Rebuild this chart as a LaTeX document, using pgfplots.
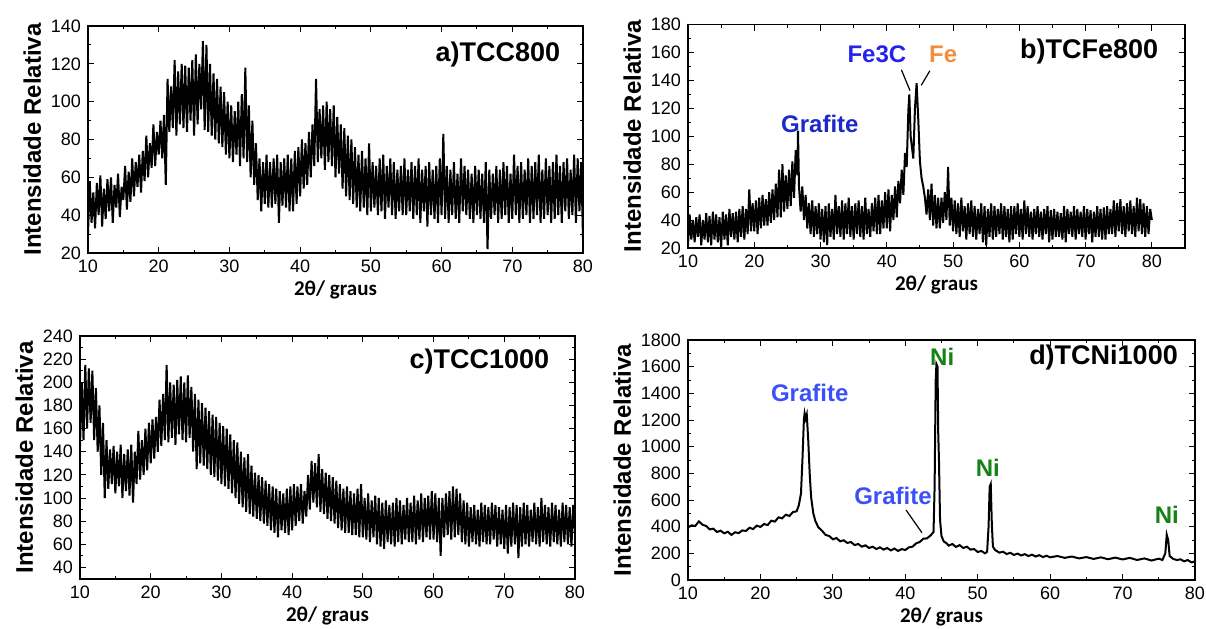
\documentclass[border=0pt]{standalone}
\usepackage{fontspec}
\setmainfont{Liberation Sans}
\newfontfamily\calibri{Carlito}
\usepackage{pgfplots}
\pgfplotsset{compat=1.18}

\definecolor{grafb}{RGB}{30,40,200}
\definecolor{fecblue}{RGB}{35,35,235}
\definecolor{feorange}{RGB}{245,140,60}
\definecolor{nigreen}{RGB}{20,130,20}
\definecolor{grafd}{RGB}{60,80,250}

\pgfplotsset{
  xrd/.style={
    scale only axis,
    xmin=10, xmax=80,
    xtick={10,20,...,80},
    minor x tick num=1, minor y tick num=1,
    tick align=inside,
    major tick length=3pt, minor tick length=1.7pt,
    every tick/.style={black, line width=0.5pt},
    axis line style={line width=0.6pt},
    ticklabel style={font=\fontsize{9}{9}\selectfont},
    /pgf/number format/assume math mode=true,
    /pgf/number format/1000 sep={},
    scaled y ticks=false,
    xlabel={\calibri\bfseries\fontsize{10.5}{10.5}\selectfont 2θ/ graus},
    ylabel={\bfseries\fontsize{12}{12}\selectfont Intensidade Relativa},
    xlabel style={yshift=3pt},
    ylabel style={yshift=-2pt},
  },
  noisy/.style={black, line width=1pt, line join=miter, miter limit=2},
}
\tikzset{
  ttl/.style={anchor=east, font=\bfseries\fontsize{13.5}{13.5}\selectfont},
  lab/.style={font=\bfseries\fontsize{12}{12}\selectfont},
}

\begin{document}
\begin{tikzpicture}[x=1pt,y=1pt]
\path[use as bounding box] (0,0) rectangle (603,314);

% a) TCC800
\begin{axis}[xrd, at={(44pt,187.5pt)}, anchor=south west, width=247.5pt, height=113.5pt,
  ymin=20, ymax=140, ytick={20,40,...,140}]
\addplot[noisy] coordinates {
(10,30)(10.25,58)(10.5,36)(10.75,52)(11,33)(11.25,57)(11.5,40)(11.75,61)
(12,34)(12.25,54)(12.5,38)(12.75,59)(13,42)(13.25,60)(13.5,36)(13.75,56)
(14,44)(14.25,62)(14.5,39)(14.75,55)(15,48)(15.25,66)(15.5,43)(15.75,63)
(16,47)(16.25,70)(16.5,50)(16.75,68)(17,55)(17.25,72)(17.5,52)(17.75,74)
(18,58)(18.25,82)(18.5,60)(18.75,78)(19,65)(19.25,88)(19.5,66)(19.75,84)
(20,72)(20.25,90)(20.5,70)(20.75,93)(21,56)(21.25,112)(21.5,84)(21.75,108)
(22,86)(22.25,122)(22.5,82)(22.75,116)(23,88)(23.25,120)(23.5,86)(23.75,119)
(24,84)(24.25,118)(24.5,90)(24.75,122)(25,82)(25.25,125)(25.5,88)(25.75,120)
(26,96)(26.25,132)(26.5,85)(26.75,130)(27,84)(27.25,120)(27.5,82)(27.75,115)
(28,80)(28.25,112)(28.5,78)(28.75,108)(29,76)(29.25,105)(29.5,72)(29.75,100)
(30,70)(30.25,98)(30.5,68)(30.75,95)(31,72)(31.25,100)(31.5,66)(31.75,104)
(32,70)(32.25,118)(32.5,68)(32.75,98)(33,60)(33.25,90)(33.5,56)(33.75,78)
(34,48)(34.25,70)(34.5,42)(34.75,68)(35,46)(35.25,72)(35.5,44)(35.75,68)
(36,44)(36.25,70)(36.5,46)(36.75,72)(37,36)(37.25,68)(37.5,45)(37.75,70)
(38,44)(38.25,72)(38.5,42)(38.75,70)(39,42)(39.25,74)(39.5,46)(39.75,76)
(40,50)(40.25,80)(40.5,54)(40.75,78)(41,56)(41.25,84)(41.5,60)(41.75,88)
(42,66)(42.25,112)(42.5,68)(42.75,96)(43,70)(43.25,98)(43.5,64)(43.75,100)
(44,68)(44.25,96)(44.5,66)(44.75,98)(45,60)(45.25,92)(45.5,62)(45.75,88)
(46,54)(46.25,86)(46.5,50)(46.75,82)(47,48)(47.25,80)(47.5,46)(47.75,76)
(48,44)(48.25,72)(48.5,42)(48.75,74)(49,44)(49.25,70)(49.5,40)(49.75,78)
(50,42)(50.25,68)(50.5,44)(50.75,66)(51,40)(51.25,70)(51.5,42)(51.75,72)
(52,38)(52.25,66)(52.5,44)(52.75,70)(53,40)(53.25,68)(53.5,38)(53.75,64)
(54,42)(54.25,66)(54.5,40)(54.75,70)(55,40)(55.25,64)(55.5,42)(55.75,68)
(56,38)(56.25,66)(56.5,40)(56.75,70)(57,36)(57.25,64)(57.5,42)(57.75,66)
(58,34)(58.25,68)(58.5,40)(58.75,64)(59,38)(59.25,66)(59.5,36)(59.75,70)
(60,40)(60.25,83)(60.5,38)(60.75,66)(61,36)(61.25,64)(61.5,40)(61.75,68)
(62,38)(62.25,62)(62.5,36)(62.75,70)(63,42)(63.25,66)(63.5,40)(63.75,64)
(64,38)(64.25,62)(64.5,36)(64.75,66)(65,40)(65.25,64)(65.5,38)(65.75,62)
(66,36)(66.25,68)(66.5,22)(66.75,64)(67,38)(67.25,62)(67.5,40)(67.75,66)
(68,36)(68.25,64)(68.5,38)(68.75,68)(69,40)(69.25,66)(69.5,36)(69.75,62)
(70,38)(70.25,72)(70.5,40)(70.75,66)(71,36)(71.25,68)(71.5,38)(71.75,64)
(72,40)(72.25,70)(72.5,36)(72.75,66)(73,38)(73.25,68)(73.5,40)(73.75,72)
(74,36)(74.25,64)(74.5,38)(74.75,70)(75,40)(75.25,66)(75.5,36)(75.75,68)
(76,38)(76.25,72)(76.5,40)(76.75,66)(77,36)(77.25,68)(77.5,42)(77.75,70)
(78,38)(78.25,64)(78.5,40)(78.75,72)(79,36)(79.25,70)(79.5,42)(79.75,68)
(80,28)};
\node[ttl] at (rel axis cs:0.968,0.876) {a)TCC800};
\end{axis}

% b) TCFe800
\begin{axis}[xrd, at={(344pt,190pt)}, anchor=south west, width=248.5pt, height=111.75pt,
  xmax=85, ymin=20, ymax=180, ytick={20,40,...,180}]
\addplot[noisy] coordinates {
(10,22)(10.25,44)(10.5,26)(10.75,40)(11,24)(11.25,42)(11.5,28)(11.75,44)
(12,22)(12.25,40)(12.5,26)(12.75,45)(13,24)(13.25,43)(13.5,22)(13.75,46)
(14,26)(14.25,44)(14.5,24)(14.75,42)(15,20)(15.25,46)(15.5,26)(15.75,44)
(16,22)(16.25,48)(16.5,28)(16.75,45)(17,26)(17.25,46)(17.5,24)(17.75,48)
(18,28)(18.25,50)(18.5,26)(18.75,48)(19,30)(19.25,62)(19.5,32)(19.75,52)
(20,32)(20.25,54)(20.5,30)(20.75,56)(21,34)(21.25,58)(21.5,36)(21.75,55)
(22,36)(22.25,60)(22.5,38)(22.75,62)(23,40)(23.25,66)(23.5,42)(23.75,76)
(24,42)(24.25,80)(24.5,46)(24.75,72)(25,48)(25.25,76)(25.5,50)(25.75,82)
(26,56)(26.25,90)(26.5,72)(26.6,104)(26.75,64)(27,46)(27.25,64)(27.5,40)(27.75,58)
(28,34)(28.25,52)(28.5,30)(28.75,54)(29,28)(29.25,50)(29.5,30)(29.75,52)
(30,26)(30.25,48)(30.5,24)(30.75,50)(31,22)(31.25,52)(31.5,28)(31.75,48)
(32,26)(32.25,58)(32.5,30)(32.75,50)(33,28)(33.25,54)(33.5,26)(33.75,52)
(34,30)(34.25,56)(34.5,28)(34.75,50)(35,26)(35.25,52)(35.5,30)(35.75,54)
(36,28)(36.25,50)(36.5,26)(36.75,56)(37,30)(37.25,48)(37.5,28)(37.75,52)
(38,32)(38.25,56)(38.5,30)(38.75,58)(39,30)(39.25,54)(39.5,34)(39.75,60)
(40,34)(40.25,62)(40.5,32)(40.75,58)(41,40)(41.25,64)(41.5,42)(41.75,68)
(42,52)(42.25,76)(42.5,58)(42.75,88)(43,78)(43.25,118)(43.4,130)(43.6,100)
(43.8,92)(44,84)(44.25,120)(44.5,138)(44.75,112)(45,82)(45.25,70)(45.5,64)
(45.75,56)(46,44)(46.25,62)(46.5,40)(46.75,66)(47,36)(47.25,58)(47.5,34)(47.75,56)
(48,34)(48.25,56)(48.5,38)(48.75,60)(49,40)(49.25,78)(49.5,36)(49.75,56)
(50,32)(50.25,54)(50.5,30)(50.75,52)(51,28)(51.25,56)(51.5,32)(51.75,50)
(52,26)(52.25,52)(52.5,30)(52.75,54)(53,28)(53.25,50)(53.5,26)(53.75,48)
(54,30)(54.25,52)(54.5,24)(54.75,50)(55,22)(55.25,48)(55.5,28)(55.75,52)
(56,26)(56.25,50)(56.5,28)(56.75,48)(57,30)(57.25,52)(57.5,26)(57.75,50)
(58,28)(58.25,48)(58.5,24)(58.75,50)(59,26)(59.25,50)(59.5,30)(59.75,52)
(60,28)(60.25,48)(60.5,26)(60.75,54)(61,30)(61.25,50)(61.5,28)(61.75,46)
(62,26)(62.25,48)(62.5,30)(62.75,50)(63,28)(63.25,46)(63.5,26)(63.75,48)
(64,30)(64.25,50)(64.5,24)(64.75,47)(65,26)(65.25,48)(65.5,28)(65.75,46)
(66,28)(66.25,45)(66.5,26)(66.75,50)(67,24)(67.25,48)(67.5,30)(67.75,46)
(68,28)(68.25,50)(68.5,26)(68.75,48)(69,30)(69.25,46)(69.5,28)(69.75,50)
(70,26)(70.25,48)(70.5,30)(70.75,47)(71,24)(71.25,46)(71.5,28)(71.75,50)
(72,28)(72.25,48)(72.5,26)(72.75,49)(73,26)(73.25,50)(73.5,30)(73.75,48)
(74,30)(74.25,54)(74.5,28)(74.75,52)(75,32)(75.25,55)(75.5,30)(75.75,50)
(76,28)(76.25,52)(76.5,32)(76.75,54)(77,30)(77.25,50)(77.5,28)(77.75,56)
(78,32)(78.25,55)(78.5,30)(78.75,52)(79,28)(79.25,50)(79.5,30)(79.75,48)
(80,40)};
\node[ttl] at (rel axis cs:0.96,0.877) {b)TCFe800};
\node[lab, text=grafb] at (axis cs:29.9,109) {Grafite};
\node[lab, text=fecblue] at (axis cs:38.5,158.8) {Fe3C};
\node[lab, text=feorange] at (axis cs:48.5,158.8) {Fe};
\draw[line width=0.6pt] (axis cs:42.2,147.6) -- (axis cs:43.5,132.7);
\draw[line width=0.6pt] (axis cs:46.5,146.9) -- (axis cs:45.2,136.5);
\end{axis}

% c) TCC1000
\begin{axis}[xrd, at={(40pt,24.5pt)}, anchor=south west, width=247.5pt, height=121.5pt,
  ymin=30, ymax=240, ytick={40,60,...,240}]
\addplot[noisy] coordinates {
(10,145)(10.25,200)(10.5,150)(10.75,215)(11,160)(11.25,212)(11.5,165)(11.75,210)
(12,150)(12.25,195)(12.5,140)(12.75,180)(13,120)(13.25,165)(13.5,100)(13.75,150)
(14,108)(14.25,142)(14.5,112)(14.75,145)(15,104)(15.25,140)(15.5,110)(15.75,146)
(16,100)(16.25,138)(16.5,106)(16.75,142)(17,102)(17.25,146)(17.5,96)(17.75,140)
(18,112)(18.25,158)(18.5,116)(18.75,150)(19,120)(19.25,160)(19.5,124)(19.75,165)
(20,130)(20.25,168)(20.5,134)(20.75,170)(21,140)(21.25,185)(21.5,145)(21.75,190)
(22,150)(22.25,215)(22.5,148)(22.75,200)(23,152)(23.25,198)(23.5,146)(23.75,202)
(24,155)(24.25,205)(24.5,150)(24.75,200)(25,148)(25.25,206)(25.5,152)(25.75,196)
(26,140)(26.25,190)(26.5,125)(26.75,185)(27,130)(27.25,182)(27.5,128)(27.75,178)
(28,125)(28.25,175)(28.5,120)(28.75,172)(29,118)(29.25,170)(29.5,115)(29.75,165)
(30,112)(30.25,162)(30.5,110)(30.75,160)(31,108)(31.25,155)(31.5,104)(31.75,150)
(32,100)(32.25,148)(32.5,95)(32.75,140)(33,92)(33.25,135)(33.5,88)(33.75,138)
(34,86)(34.25,128)(34.5,84)(34.75,122)(35,82)(35.25,120)(35.5,80)(35.75,118)
(36,78)(36.25,115)(36.5,76)(36.75,112)(37,72)(37.25,110)(37.5,70)(37.75,108)
(38,66)(38.25,106)(38.5,72)(38.75,104)(39,70)(39.25,108)(39.5,68)(39.75,110)
(40,72)(40.25,112)(40.5,76)(40.75,110)(41,80)(41.25,112)(41.5,78)(41.75,106)
(42,84)(42.25,120)(42.5,90)(42.75,132)(43,96)(43.25,130)(43.5,92)(43.75,138)
(44,88)(44.25,125)(44.5,86)(44.75,122)(45,82)(45.25,120)(45.5,80)(45.75,118)
(46,78)(46.25,115)(46.5,74)(46.75,112)(47,72)(47.25,108)(47.5,70)(47.75,110)
(48,70)(48.25,106)(48.5,68)(48.75,104)(49,68)(49.25,108)(49.5,66)(49.75,112)
(50,66)(50.25,100)(50.5,64)(50.75,104)(51,62)(51.25,98)(51.5,66)(51.75,102)
(52,60)(52.25,100)(52.5,58)(52.75,96)(53,56)(53.25,98)(53.5,62)(53.75,94)
(54,60)(54.25,96)(54.5,58)(54.75,100)(55,62)(55.25,98)(55.5,60)(55.75,94)
(56,64)(56.25,100)(56.5,62)(56.75,96)(57,62)(57.25,102)(57.5,60)(57.75,98)
(58,64)(58.25,104)(58.5,62)(58.75,100)(59,66)(59.25,102)(59.5,64)(59.75,106)
(60,64)(60.25,104)(60.5,62)(60.75,100)(61,50)(61.25,100)(61.5,66)(61.75,104)
(62,68)(62.25,106)(62.5,64)(62.75,110)(63,66)(63.25,108)(63.5,68)(63.75,104)
(64,62)(64.25,98)(64.5,60)(64.75,96)(65,58)(65.25,92)(65.5,62)(65.75,94)
(66,60)(66.25,90)(66.5,58)(66.75,96)(67,62)(67.25,94)(67.5,60)(67.75,92)
(68,60)(68.25,96)(68.5,64)(68.75,94)(69,58)(69.25,92)(69.5,60)(69.75,90)
(70,56)(70.25,94)(70.5,52)(70.75,92)(71,58)(71.25,96)(71.5,60)(71.75,94)
(72,48)(72.25,92)(72.5,58)(72.75,96)(73,60)(73.25,94)(73.5,58)(73.75,90)
(74,62)(74.25,96)(74.5,60)(74.75,92)(75,58)(75.25,100)(75.5,62)(75.75,94)
(76,60)(76.25,92)(76.5,58)(76.75,96)(77,62)(77.25,94)(77.5,60)(77.75,90)
(78,58)(78.25,96)(78.5,62)(78.75,94)(79,60)(79.25,92)(79.5,58)(79.75,94)
(80,70)};
\node[ttl] at (rel axis cs:0.962,0.893) {c)TCC1000};
\end{axis}

% d) TCNi1000
\begin{axis}[xrd, at={(344pt,24pt)}, anchor=south west, width=253.5pt, height=120pt,
  ymin=0, ymax=1800, ytick={0,200,...,1800}]
\addplot[black, line width=1pt] coordinates {
(10,395)(10.5,410)(11,405)(11.5,440)(12,415)(12.5,405)(13,380)(13.5,385)
(14,360)(14.5,370)(15,350)(15.5,362)(16,338)(16.5,358)(17,352)(17.5,372)
(18,368)(18.5,392)(19,382)(19.5,408)(20,398)(20.5,420)(21,412)(21.5,445)
(22,438)(22.5,470)(23,462)(23.5,490)(24,480)(24.5,510)(25,515)(25.3,560)
(25.6,650)(25.8,900)(26,1200)(26.1,1250)(26.25,1210)(26.4,1240)(26.6,1050)
(26.8,800)(27,620)(27.3,500)(27.6,440)(28,395)(28.5,370)(29,338)(29.5,330)
(30,305)(30.5,315)(31,290)(31.5,298)(32,278)(32.5,285)(33,262)(33.5,270)
(34,250)(34.5,260)(35,240)(35.5,250)(36,232)(36.5,245)(37,228)(37.5,240)
(38,222)(38.5,236)(39,218)(39.5,232)(40,225)(40.5,245)(41,250)(41.5,275)
(42,285)(42.5,310)(43,312)(43.5,335)(43.9,360)(44.05,700)(44.2,1500)
(44.3,1620)(44.45,1600)(44.55,1100)(44.65,900)(44.8,450)(45,330)(45.3,290)
(45.7,275)(46,258)(46.5,270)(47,248)(47.5,262)(48,240)(48.5,250)(49,228)
(49.5,232)(50,210)(50.5,218)(51,200)(51.3,212)(51.5,400)(51.65,700)(51.8,720)
(51.95,420)(52.1,250)(52.4,225)(53,205)(53.5,212)(54,195)(54.5,204)(55,188)
(55.5,198)(56,184)(56.5,194)(57,180)(57.5,190)(58,176)(58.5,186)(59,172)
(59.5,182)(60,170)(61,180)(62,166)(63,176)(64,162)(65,172)(66,158)(67,170)
(68,156)(69,168)(70,154)(71,166)(72,150)(73,162)(74,146)(75,160)(75.5,150)
(75.9,200)(76.1,340)(76.3,300)(76.5,180)(77,158)(77.5,150)(78,155)(78.5,140)
(79,150)(79.5,132)(80,140)};
\node[ttl] at (rel axis cs:0.98,0.925) {d)TCNi1000};
\node[lab, text=grafd] at (axis cs:26.8,1402) {Grafite};
\node[lab, text=grafd] at (axis cs:38.3,630) {Grafite};
\node[lab, text=nigreen] at (axis cs:45.1,1672) {Ni};
\node[lab, text=nigreen] at (axis cs:51.4,840) {Ni};
\node[lab, text=nigreen] at (axis cs:76.1,487) {Ni};
\draw[line width=0.6pt] (axis cs:40.1,525) -- (axis cs:42.3,355);
\end{axis}
\end{tikzpicture}
\end{document}
